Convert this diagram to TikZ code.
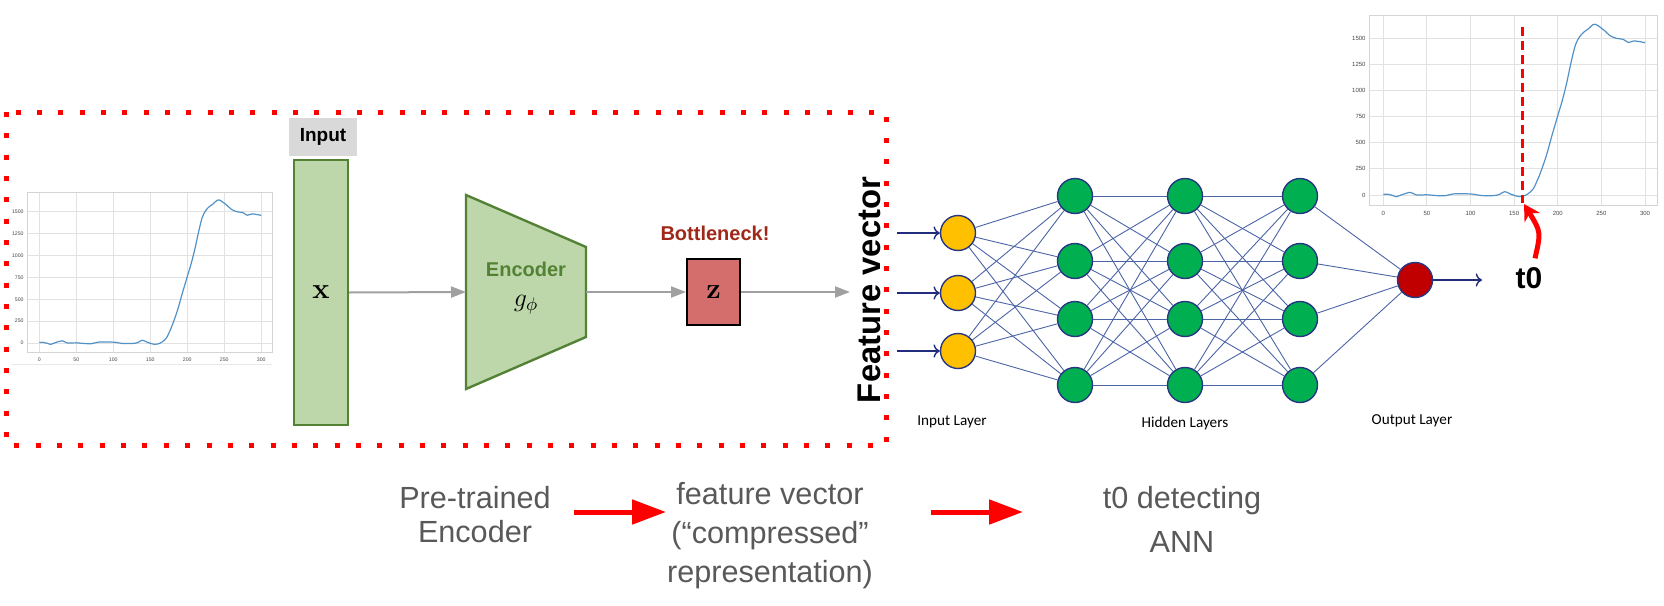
\RequirePackage{fix-cm}
\documentclass[tikz,border=0pt]{standalone}
\usepackage[no-math]{fontspec}
\setmainfont{Liberation Sans}
\newfontfamily\calibrifont{Carlito}
\usetikzlibrary{arrows.meta}

% one signal plot, drawn in data units (#1 tick font size, #2 name prefix)
\newcommand{\signalplot}[2]{%
  \foreach \t in {0,50,...,300} {
    \draw[plotgrid] (\t,-103) -- (\t,1714);
    \node[ticklabel, font=\fontsize{#1}{#1}\selectfont, anchor=north, yshift=-2.5pt] (#2x\t) at (\t,-103) {\t};
  }
  \foreach \v in {0,250,...,1500} {
    \draw[plotgrid] (-15.3,\v) -- (314.5,\v);
    \node[ticklabel, font=\fontsize{#1}{#1}\selectfont, anchor=east, xshift=-2pt] (#2y\v) at (-15.3,\v) {\v};
  }
  \draw[plotframe] (-15.3,-103) rectangle (314.5,1714);
  \draw[signal] plot[smooth, tension=0.5] coordinates {
    (0,5) (4,8) (10,-2) (15,-16) (22,5) (31,25) (38,0) (50,2) (60,-5)
    (70,-8) (80,10) (92,12) (103,8) (112,-5) (126,-6) (133,5) (139,32)
    (147,5) (155,-15) (160,-12) (166,12) (172,60) (176,130) (180,210)
    (187,380) (193,560) (200,760) (205,900) (210,1065) (215,1260)
    (220,1430) (225,1515) (230,1560) (235,1590) (240,1630) (243,1635)
    (248,1610) (254,1570) (260,1525) (267,1500) (275,1490) (281,1460)
    (287,1475) (294,1468) (300,1458)};
}

\begin{document}
\begin{tikzpicture}[%
      x=0.5pt, y=-0.5pt,
      plotgrid/.style={color={rgb,255:red,226;green,226;blue,226}, line width=0.5pt},
      plotframe/.style={color={rgb,255:red,212;green,212;blue,212}, line width=0.5pt},
      ticklabel/.style={color={rgb,255:red,70;green,70;blue,70}, inner sep=0pt},
      signal/.style={color={rgb,255:red,80;green,145;blue,200}, line width=0.6pt},
      greenbox/.style={fill={rgb,255:red,189;green,215;blue,170}, draw={rgb,255:red,84;green,130;blue,53}, line width=1.2pt},
      flow/.style={color={rgb,255:red,160;green,160;blue,160}, line width=1pt, -{Triangle[length=7.5pt,width=5.5pt]}},
      neuron/.style={circle, draw={rgb,255:red,40;green,55;blue,130}, line width=0.7pt, minimum size=17.5pt, inner sep=0pt},
      synapse/.style={color={rgb,255:red,75;green,100;blue,165}, line width=0.45pt},
      feed/.style={color={rgb,255:red,35;green,45;blue,125}, line width=0.7pt, ->},
      caption/.style={color={rgb,255:red,89;green,89;blue,89}, align=center, inner sep=0pt},
      layerlabel/.style={font=\calibrifont\fontsize{7.6pt}{9pt}\selectfont, inner sep=0pt},
      bigred/.style={color=red, line width=2.5pt, -{Triangle[length=17pt,width=12pt]}},
      ]
      \useasboundingbox (0,0) rectangle (1664,605);

      % input signal
      \draw[color={rgb,255:red,232;green,232;blue,232}, line width=0.5pt] (12,364) -- (272,364);
      \begin{scope}[shift={(39.3,343)}, x=0.37pt, y=0.043765pt]
        \signalplot{2.6pt}{l}
      \end{scope}

      % pre-trained encoder part
      \draw[color=red, line width=2.5pt, dash pattern=on 2.5pt off 8.17pt] (6,112) rectangle (886,445);

      \node[fill={rgb,255:red,217;green,217;blue,217}, minimum width=34pt, minimum height=19pt, inner sep=0pt, font=\bfseries\fontsize{9.5pt}{11pt}\selectfont] (inputlbl) at (323,137) {Input};
      \node[greenbox, minimum width=27pt, minimum height=132.5pt, inner sep=0pt, font=\fontsize{14.5pt}{16pt}\selectfont] (xvec) at (321,292.5) {$\mathbf{x}$};

      \draw[greenbox] (466,195) -- (586,247) -- (586,337) -- (466,389) -- cycle;
      \coordinate (encin) at (466,292);
      \coordinate (encout) at (586,292);
      \node[font=\bfseries\fontsize{10pt}{12pt}\selectfont, text={rgb,255:red,84;green,130;blue,53}] (enclabel) at (526,269) {Encoder};
      \node[font=\fontsize{13pt}{15pt}\selectfont] (gphi) at (526,305) {$g_\phi$};

      \node[font=\bfseries\fontsize{10pt}{12pt}\selectfont, text={rgb,255:red,160;green,40;blue,25}] (bneck) at (715,233) {Bottleneck!};
      \node[fill={rgb,255:red,211;green,110;blue,108}, draw=black, line width=1pt, minimum width=26.5pt, minimum height=33pt, inner sep=0pt, font=\fontsize{14.5pt}{16pt}\selectfont] (zbox) at (713.5,292) {$\mathbf{z}$};
      \coordinate (fvin) at (850,292);

      \draw[flow] (xvec.east) -- (encin);
      \draw[flow] (encout) -- (zbox.west);
      \draw[flow] (zbox.east) -- (fvin);

      \node[rotate=90, inner sep=0pt, font=\bfseries\fontsize{16.4pt}{18pt}\selectfont] (fvec) at (869,290) {Feature vector};

      % t0 detecting network
      \node[neuron, fill={rgb,255:red,255;green,192;blue,0}] (in1) at (958,233) {};
      \node[neuron, fill={rgb,255:red,255;green,192;blue,0}] (in2) at (958,293) {};
      \node[neuron, fill={rgb,255:red,255;green,192;blue,0}] (in3) at (958,351) {};
      \foreach \l/\x in {a/1075,b/1185,c/1300}
        \foreach \n/\y in {1/196,2/261,3/319,4/385}
          \node[neuron, fill={rgb,255:red,0;green,176;blue,80}] (h\l\n) at (\x,\y) {};
      \node[neuron, fill={rgb,255:red,192;green,0;blue,0}] (out) at (1415,280) {};

      \foreach \i in {1,2,3}
        \foreach \j in {1,...,4}
          \draw[synapse] (in\i) -- (ha\j);
      \foreach \i in {1,...,4}
        \foreach \j in {1,...,4} {
          \draw[synapse] (ha\i) -- (hb\j);
          \draw[synapse] (hb\i) -- (hc\j);
        }
      \foreach \i in {1,...,4}
        \draw[synapse] (hc\i) -- (out);

      \foreach \n/\y in {1/233,2/293,3/351} {
        \coordinate (feed\n) at (897,\y);
        \draw[feed] (feed\n) -- (in\n);
      }
      \coordinate (t0arrow) at (1482,280);
      \draw[feed] (out) -- (t0arrow);

      \node[layerlabel] (inlayer) at (952,422) {Input Layer};
      \node[layerlabel] (hidlayer) at (1185,423) {Hidden Layers};
      \node[layerlabel] (outlayer) at (1412,421) {Output Layer};

      % detected signal
      \begin{scope}[shift={(1383.3,195)}, x=0.43615pt, y=0.052235pt]
        \signalplot{3pt}{r}
        \draw[color=red, line width=1.5pt, dash pattern=on 4.5pt off 2.5pt] (160,1608) -- (160,-77);
      \end{scope}
      \node[font=\bfseries\fontsize{15pt}{17pt}\selectfont] (t0) at (1529,278) {t0};
      \draw[color=red, line width=2.5pt, -{Stealth[length=8pt,width=9pt]}] (t0.north) ++(6,-2) .. controls (1541,232) .. (1524,204);

      % bottom captions
      \node[caption, font=\fontsize{15.3pt}{17pt}\selectfont] (pretrained) at (475,515) {Pre-trained\\Encoder};
      \node[caption, font=\fontsize{15.3pt}{19.5pt}\selectfont] (compressed) at (770,536) {feature vector\\(“compressed”\\representation)};
      \node[caption, font=\fontsize{15.3pt}{22pt}\selectfont] (ann) at (1182,519) {t0 detecting\\ANN};

      \coordinate (r1s) at (574,512);
      \coordinate (r1e) at (666,512);
      \coordinate (r2s) at (931,512);
      \coordinate (r2e) at (1023,512);
      \draw[bigred] (r1s) -- (r1e);
      \draw[bigred] (r2s) -- (r2e);
      \end{tikzpicture}
\end{document}
